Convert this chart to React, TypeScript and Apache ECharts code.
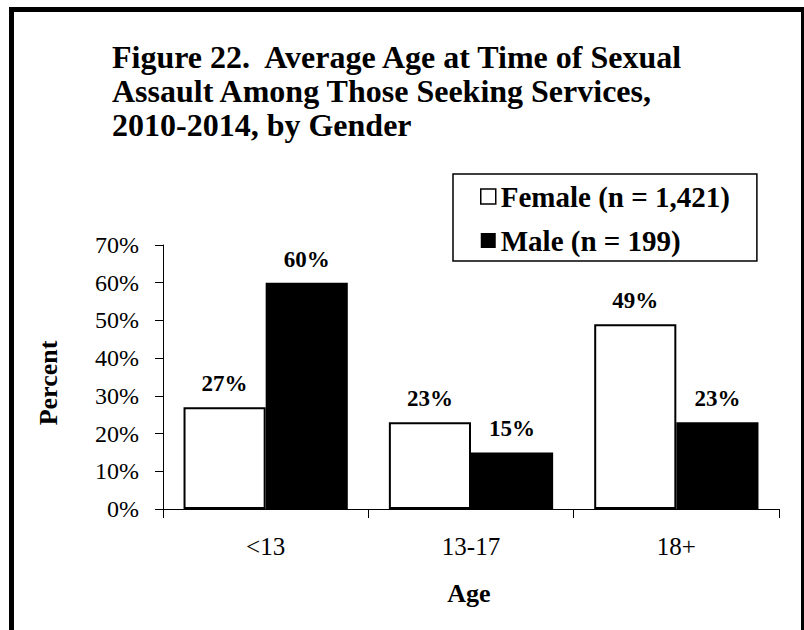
import React, { useEffect, useRef } from "react";
import * as echarts from "echarts";

const categories = ["<13", "13-17", "18+"];
const femaleValues = [27, 23, 49];
const maleValues = [60, 15, 23];
const femaleName = "Female (n = 1,421)";
const maleName = "Male (n = 199)";
const titleText = "Figure 22.  Average Age at Time of Sexual\nAssault Among Those Seeking Services,\n2010-2014, by Gender";
const yAxisTitle = "Percent";
const xAxisTitle = "Age";

const FONT = "Liberation Serif";

export default function App() {
  const ref = useRef<HTMLDivElement>(null);
  useEffect(() => {
    if (!ref.current) return;
    const chart = echarts.init(ref.current, null, { renderer: "svg" });
    const labelStyle = {
      show: true,
      position: "top" as const,
      distance: 12,
      formatter: "{c}%",
      fontFamily: FONT,
      fontWeight: "bold" as const,
      fontSize: 23,
      color: "#000",
    };
    chart.setOption({
      animation: false,
      backgroundColor: "#fff",
      title: {
        text: titleText,
        left: 112,
        top: 40,
        padding: 0,
        textStyle: {
          fontFamily: FONT,
          fontWeight: "bold",
          fontSize: 32,
          lineHeight: 34,
          color: "#000",
        },
      },
      legend: {
        orient: "vertical",
        left: 453,
        top: 174,
        padding: [8, 27, 6, 27],
        itemGap: 15,
        itemWidth: 15,
        itemHeight: 15,
        borderColor: "#000",
        borderWidth: 1.5,
        icon: "rect",
        textStyle: {
          fontFamily: FONT,
          fontWeight: "bold",
          fontSize: 29,
          lineHeight: 28,
          color: "#000",
        },
        data: [
          { name: femaleName, itemStyle: { color: "#fff", borderColor: "#000", borderWidth: 1.5 } },
          { name: maleName, itemStyle: { color: "#000" } },
        ],
      },
      grid: { left: 163, right: 25, top: 245, bottom: 121, containLabel: false },
      xAxis: {
        type: "category",
        data: categories,
        axisLine: { lineStyle: { color: "#000", width: 1 } },
        axisTick: { show: true, length: 9, lineStyle: { color: "#000" } },
        axisLabel: { fontFamily: FONT, fontSize: 25, color: "#000", margin: 25 },
      },
      yAxis: {
        type: "value",
        min: 0,
        max: 70,
        interval: 10,
        splitLine: { show: false },
        axisLine: { show: true, lineStyle: { color: "#000", width: 1 } },
        axisTick: { show: true, length: 8, lineStyle: { color: "#000" } },
        axisLabel: { fontFamily: FONT, fontSize: 24, color: "#000", margin: 24, formatter: "{value}%" },
      },
      series: [
        {
          name: femaleName,
          type: "bar",
          data: femaleValues,
          barGap: "0%",
          barCategoryGap: "20%",
          itemStyle: { color: "#fff", borderColor: "#000", borderWidth: 2 },
          label: labelStyle,
        },
        {
          name: maleName,
          type: "bar",
          data: maleValues,
          barGap: "0%",
          barCategoryGap: "20%",
          itemStyle: { color: "#000" },
          label: labelStyle,
        },
      ],
      graphic: [
        {
          type: "rect",
          shape: { x: 11.5, y: 9.5, width: 792, height: 700 },
          style: { fill: "none", stroke: "#000", lineWidth: 5 },
          silent: true,
        },
        {
          type: "text",
          x: 48,
          y: 383,
          rotation: Math.PI / 2,
          style: {
            text: yAxisTitle,
            fontFamily: FONT,
            fontWeight: "bold",
            fontSize: 26,
            fill: "#000",
            align: "center",
            verticalAlign: "middle",
          },
        },
        {
          type: "text",
          x: 469,
          y: 593,
          style: {
            text: xAxisTitle,
            fontFamily: FONT,
            fontWeight: "bold",
            fontSize: 26,
            fill: "#000",
            align: "center",
            verticalAlign: "middle",
          },
        },
      ],
    });
    return () => chart.dispose();
  }, []);
  return (
    <div
      ref={ref}
      style={{ position: "absolute", left: 0, top: 0, width: 804, height: 630 }}
    />
  );
}
